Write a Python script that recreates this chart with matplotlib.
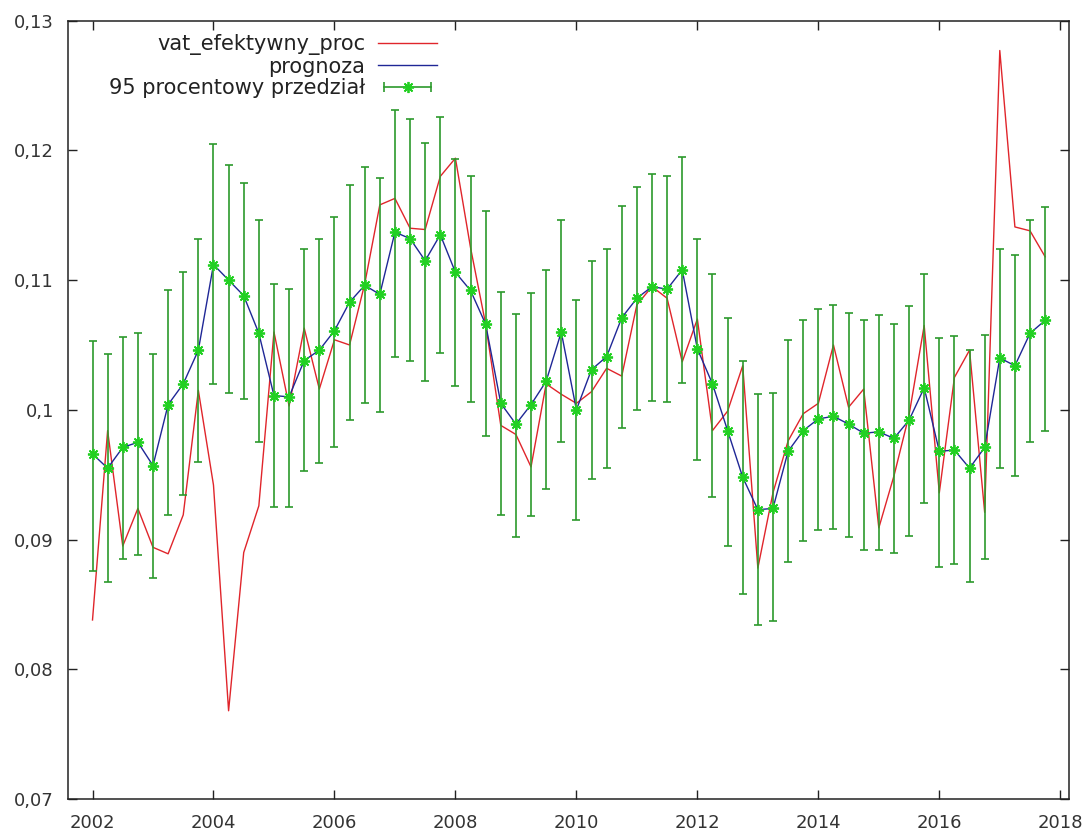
import numpy as np
import matplotlib
matplotlib.use("Agg")
import matplotlib.pyplot as plt
from matplotlib.lines import Line2D
from matplotlib.legend_handler import HandlerLine2D, HandlerTuple

# kwartaly 2002Q1 .. 2017Q4
kwartaly = np.arange(2002, 2018, 0.25)

vat_efektywny_proc = [
    0.0838, 0.0984, 0.0895, 0.0924, 0.0894, 0.0889, 0.0919, 0.1015,
    0.0942, 0.0768, 0.0890, 0.0926, 0.1060, 0.1003, 0.1063, 0.1016,
    0.1054, 0.1050, 0.1097, 0.1158, 0.1163, 0.1140, 0.1139, 0.1180,
    0.1194, 0.1125, 0.1066, 0.0988, 0.0981, 0.0956, 0.1020, 0.1012,
    0.1005, 0.1014, 0.1032, 0.1026, 0.1081, 0.1095, 0.1086, 0.1037,
    0.1070, 0.0984, 0.0999, 0.1034, 0.0878, 0.0936, 0.0976, 0.0997,
    0.1005, 0.1050, 0.1002, 0.1016, 0.0909, 0.0949, 0.0996, 0.1065,
    0.0936, 0.1025, 0.1046, 0.0921, 0.1277, 0.1141, 0.1138, 0.1118,
]

prognoza = [
    0.0966, 0.0955, 0.0971, 0.0975, 0.0957, 0.1004, 0.1020, 0.1046,
    0.1112, 0.1100, 0.1088, 0.1059, 0.1011, 0.1010, 0.1038, 0.1046,
    0.1061, 0.1083, 0.1096, 0.1089, 0.1137, 0.1132, 0.1115, 0.1135,
    0.1106, 0.1092, 0.1066, 0.1005, 0.0989, 0.1004, 0.1022, 0.1060,
    0.1000, 0.1031, 0.1041, 0.1071, 0.1086, 0.1095, 0.1093, 0.1108,
    0.1047, 0.1020, 0.0984, 0.0948, 0.0923, 0.0924, 0.0968, 0.0984,
    0.0993, 0.0995, 0.0989, 0.0982, 0.0983, 0.0978, 0.0992, 0.1017,
    0.0968, 0.0969, 0.0955, 0.0971, 0.1040, 0.1034, 0.1059, 0.1069,
]

dolna = [
    0.0876, 0.0867, 0.0885, 0.0888, 0.0870, 0.0919, 0.0934, 0.0960,
    0.1020, 0.1013, 0.1008, 0.0975, 0.0925, 0.0925, 0.0953, 0.0959,
    0.0971, 0.0992, 0.1005, 0.0998, 0.1041, 0.1038, 0.1022, 0.1044,
    0.1018, 0.1006, 0.0980, 0.0919, 0.0902, 0.0918, 0.0939, 0.0975,
    0.0915, 0.0947, 0.0955, 0.0986, 0.1000, 0.1007, 0.1006, 0.1021,
    0.0961, 0.0933, 0.0895, 0.0858, 0.0834, 0.0837, 0.0883, 0.0899,
    0.0907, 0.0908, 0.0902, 0.0892, 0.0892, 0.0890, 0.0903, 0.0928,
    0.0879, 0.0881, 0.0867, 0.0885, 0.0955, 0.0949, 0.0975, 0.0984,
]

gorna = [
    0.1053, 0.1043, 0.1056, 0.1059, 0.1043, 0.1092, 0.1106, 0.1132,
    0.1205, 0.1189, 0.1175, 0.1146, 0.1097, 0.1093, 0.1124, 0.1132,
    0.1149, 0.1173, 0.1187, 0.1179, 0.1231, 0.1224, 0.1206, 0.1226,
    0.1193, 0.1180, 0.1153, 0.1091, 0.1074, 0.1090, 0.1108, 0.1146,
    0.1085, 0.1115, 0.1124, 0.1157, 0.1172, 0.1182, 0.1180, 0.1195,
    0.1132, 0.1105, 0.1071, 0.1038, 0.1012, 0.1013, 0.1054, 0.1069,
    0.1078, 0.1081, 0.1075, 0.1069, 0.1073, 0.1066, 0.1080, 0.1105,
    0.1055, 0.1057, 0.1046, 0.1058, 0.1124, 0.1119, 0.1146, 0.1156,
]

x_ticks = [2002, 2004, 2006, 2008, 2010, 2012, 2014, 2016, 2018]
y_ticks = [0.07, 0.08, 0.09, 0.10, 0.11, 0.12, 0.13]
y_labels = ["0,07", "0,08", "0,09", "0,1", "0,11", "0,12", "0,13"]

czerwony = "#e0252b"
niebieski = "#1f2796"
zielony = "#2c9a2c"
gwiazdka = "#22d022"

plt.rcParams["font.family"] = ["DejaVu Sans"]
plt.rcParams["font.size"] = 13

fig = plt.figure(figsize=(10.92, 8.34), dpi=100)
ax = fig.add_axes([0.062, 0.042, 0.9167, 0.9332])

ax.plot(kwartaly, vat_efektywny_proc, color=czerwony, lw=1.0)
ax.plot(kwartaly, prognoza, color=niebieski, lw=1.0)

p = np.array(prognoza)
yerr = [p - np.array(dolna), np.array(gorna) - p]
ax.errorbar(kwartaly, prognoza, yerr=yerr, fmt="none", ecolor=zielony,
            elinewidth=1.2, capsize=3, capthick=1.2)
ax.plot(kwartaly, prognoza, ls="none", marker=(8, 2, 0), ms=8,
        mec=gwiazdka, mew=1.3)

ax.set_xlim(2001.59, 2018.14)
ax.set_ylim(0.07, 0.13)
ax.set_xticks(x_ticks)
ax.set_xticklabels([str(r) for r in x_ticks])
ax.set_yticks(y_ticks)
ax.set_yticklabels(y_labels)

for s in ax.spines.values():
    s.set_linewidth(1.1)
    s.set_color("#222222")
ax.tick_params(direction="in", length=6.5, width=1.0, top=True, right=True,
               colors="#222222", labelcolor="#333333")
ax.tick_params(axis="x", pad=11)
ax.tick_params(axis="y", pad=10)

# legenda w stylu gnuplota: tekst po lewej, probka po prawej
h_vat = Line2D([], [], color=czerwony, lw=1.0)
h_prog = Line2D([], [], color=niebieski, lw=1.0)
h_bar = Line2D([], [], color=zielony, lw=1.2, marker="|", ms=7, mew=1.2)
h_star = Line2D([], [], ls="none", marker=(8, 2, 0), ms=8, mec=gwiazdka, mew=1.3)
leg = ax.legend([h_vat, h_prog, (h_bar, h_star)],
                ["vat_efektywny_proc", "prognoza", "95 procentowy przedział"],
                handler_map={h_bar: HandlerLine2D(numpoints=2),
                             h_star: HandlerLine2D(numpoints=1),
                             tuple: HandlerTuple(ndivide=1)},
                markerfirst=False, frameon=False, loc="upper right",
                bbox_to_anchor=(0.369, 0.983), borderpad=0, borderaxespad=0,
                handlelength=2.83, handletextpad=0.62, labelspacing=0.08,
                fontsize=15)
for t in leg.get_texts():
    t.set_color("#222222")

fig.savefig("out.png", dpi=100)
